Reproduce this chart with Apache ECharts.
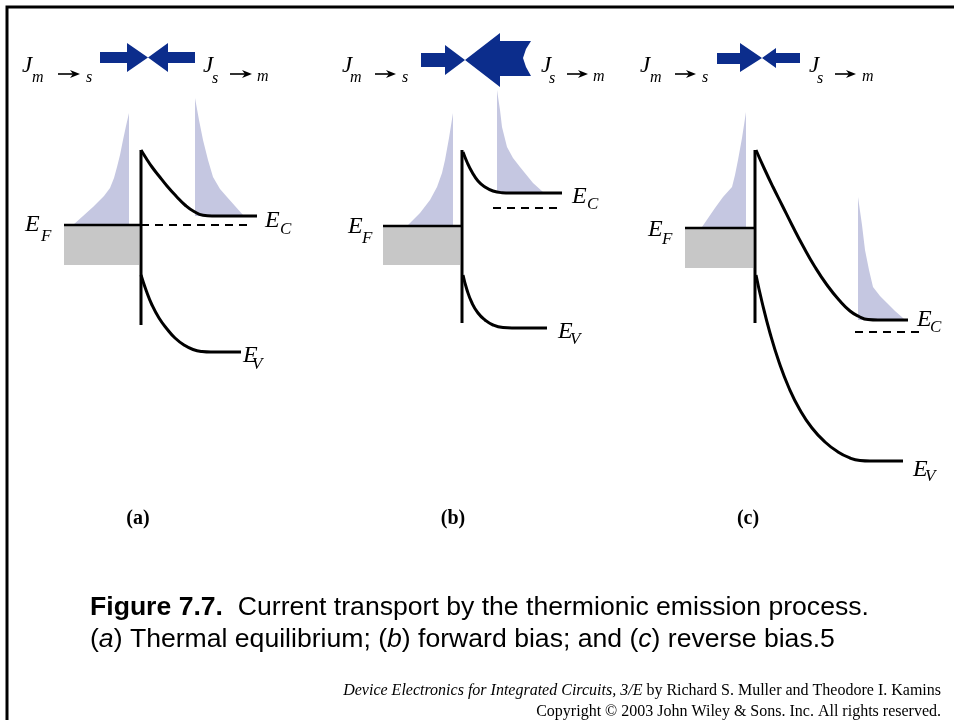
<!DOCTYPE html>
<html><head><meta charset="utf-8">
<script src="https://cdn.jsdelivr.net/npm/echarts@6/dist/echarts.min.js"></script>
<style>html,body{margin:0;padding:0;background:#fff}#c{width:954px;height:720px}</style>
</head><body><div id="c"></div>
<script>
// ---- Diagram data (x = horizontal position, y = energy position, downward) ----
// Panel (a): thermal equilibrium
const aCB = [[141,150],[146,158],[152,167],[159,176],[167,186],[176,196],[185,205],[194,211.5],[203,215.3],[212,216],[257,216]];
const aVB = [[141,275],[146,290],[152,305],[159,318],[167,329],[175,338],[184,345],[193,349.5],[202,351.5],[211,352],[241,352]];
const aMetal = [[141,150],[141,325]];
const aEF = [[64,225],[141,225]];
const aEFdash = [[141,225],[247,225]];
const aDistL = [[73,225],[93,207],[104,196],[110,188],[114,178],[117,167],[120,155],[123,140],[126,126],[129,113],[129,225]];
const aDistR = [[195,98],[199,120],[203,140],[208,160],[213,177],[220,189],[227,197],[235,206],[243,215],[247,216],[195,216]];
const aSea = [[64,225],[139,225],[139,265],[64,265]];
const aFlowMS = [[100,52],[127,52],[127,43],[148,57.5],[127,72],[127,63],[100,63]];
const aFlowSM = [[195,52],[168,52],[168,43],[148,57.5],[168,72],[168,63],[195,63]];
// Panel (b): forward bias
const bCB = [[463,152],[467,162],[472,172],[478,181],[485,187],[493,191],[502,192.7],[510,193],[562,193]];
const bVB = [[463,275],[467,290],[472,303],[478,313],[485,320],[493,325],[503,327.6],[512,328],[547,328]];
const bMetal = [[462,150],[462,323]];
const bEF = [[383,226],[462,226]];
const bEFdash = [[493,208],[560,208]];
const bDistL = [[407,226],[420,213],[430,200],[437,187],[442,173],[445,160],[449,138],[453,113],[453,226]];
const bDistR = [[497,90],[500,110],[502,127],[507,147],[513,158],[520,167],[533,183],[543,192],[545,193],[497,193]];
const bSea = [[383,226],[460,226],[460,265],[383,265]];
const bFlowMS = [[421,53],[445,53],[445,45],[465,60],[445,75],[445,67],[421,67]];
const bFlowSM = [[465,60],[500,33],[500,41],[531,41],[526,49],[523,58],[526,67],[531,76],[500,76],[500,87]];
// Panel (c): reverse bias
const cCB = [[756,150],[764,168],[773,187],[782,205],[792,225],[803,246],[815,267],[827,285],[839,300],[850,311],[859,316.5],[868,319.5],[878,320],[908,320]];
const cVB = [[756,275],[762,302],[770,333],[779,362],[789,388],[800,410],[812,428],[825,442],[838,452],[850,458],[860,460.5],[870,461],[903,461]];
const cMetal = [[755,150],[755,323]];
const cEF = [[685,228],[755,228]];
const cEFdash = [[855,332],[923,332]];
const cDistL = [[702,227],[715,208],[723,197],[732,187],[735,175],[738,160],[742,138],[746,112],[746,227]];
const cDistR = [[858,197],[862,225],[865,250],[869,270],[873,287],[880,296],[887,303],[895,311],[903,318],[905,320],[858,320]];
const cSea = [[685,228],[753,228],[753,268],[685,268]];
const cFlowMS = [[717,53],[740,53],[740,43],[762,58],[740,72],[740,64],[717,64]];
const cFlowSM = [[762,58],[776,48],[776,53],[800,53],[800,63],[776,63],[776,68]];

// Text labels: [text, x, y]
const bandLetters = [['E',25,225],['E',265,221],['E',243,356],['E',348,227],['E',572,197],['E',558,332],['E',648,230],['E',917,320],['E',913,470]];
const bandSubs = [['F',41,237],['C',280,230],['V',252,365],['F',362,239],['C',587,205],['V',570,340],['F',662,240],['C',930,328],['V',925,477]];
const fluxLetters = [['J',22,66],['J',203,66],['J',342,66],['J',541,66],['J',640,66],['J',809,66]];
const fluxSubs = [['m',32,78],['s',86,78],['s',212,79],['m',257,77],['m',350,78],['s',402,78],['s',549,79],['m',593,77],['m',650,78],['s',702,78],['s',817,79],['m',862,77]];
const fluxArrows = [[58,80,74],[230,252,74],[375,396,74],[567,588,74],[675,696,74],[835,856,74]];
const panelTags = [['(a)',138,519],['(b)',453,519],['(c)',748,519]];

const captionLine1 = '{b|Figure 7.7.}  Current transport by the thermionic emission process.';
const captionLine2 = '(' + '{i|a}' + ') Thermal equilibrium; (' + '{i|b}' + ') forward bias; and (' + '{i|c}' + ') reverse bias.5';
const creditLine1 = '{i|Device Electronics for Integrated Circuits, 3/E} by Richard S. Muller and Theodore I. Kamins';
const creditLine2 = 'Copyright \u00a9 2003 John Wiley & Sons. Inc. All rights reserved.';

// ---- Rendering ----
const SERIF = '"Liberation Serif","Times New Roman",serif';
const SANS = '"Liberation Sans",Arial,sans-serif';
const chart = echarts.init(document.getElementById('c'));

function lineS(data, width, extra) {
  return Object.assign({type:'line', data, symbol:'none', silent:true, animation:false, z:5,
    lineStyle:{color:'#000', width:width, cap:'butt', join:'round'}}, extra || {});
}
function polyS(polys, color, z) {
  return {type:'custom', coordinateSystem:'cartesian2d', silent:true, animation:false, z:z,
    data: polys.map(p => [p[0][0], p[0][1]]), encode:{x:0, y:1},
    renderItem: (params, api) => ({type:'polygon',
      shape:{points: polys[params.dataIndex].map(q => api.coord(q))},
      style:{fill: color}})};
}
function textS(items, fs, style, weight, align) {
  return {type:'custom', coordinateSystem:'cartesian2d', silent:true, animation:false, z:6,
    data: items.map(t => [t[1], t[2]]), encode:{x:0, y:1},
    renderItem: (params, api) => {
      const t = items[params.dataIndex];
      const p = api.coord([t[1], t[2]]);
      return {type:'text', x:p[0], y:p[1], style:{text:t[0], fontSize:fs, fontFamily:SERIF,
        fontStyle:style, fontWeight:weight, fill:'#000', align:align, verticalAlign:'middle'}};
    }};
}
const arrowSeries = {type:'custom', coordinateSystem:'cartesian2d', silent:true, animation:false, z:6,
  data: fluxArrows.map(a => [a[0], a[2]]), encode:{x:0, y:1},
  renderItem: (params, api) => {
    const a = fluxArrows[params.dataIndex];
    const p0 = api.coord([a[0], a[2]]), p1 = api.coord([a[1], a[2]]);
    return {type:'group', children:[
      {type:'line', shape:{x1:p0[0], y1:p0[1], x2:p1[0]-6, y2:p1[1]}, style:{stroke:'#000', lineWidth:1.6}},
      {type:'polygon', shape:{points:[[p1[0],p1[1]],[p1[0]-10,p1[1]-4],[p1[0]-7,p1[1]],[p1[0]-10,p1[1]+4]]}, style:{fill:'#000'}}
    ]};
  }};

const curveOpt = {smooth:0.5};
const dashOpt = {lineStyle:{color:'#000', width:2, type:[8,6]}};

const option = {
  animation:false,
  backgroundColor:'#fff',
  grid:{left:0, right:0, top:0, bottom:0, containLabel:false},
  xAxis:{type:'value', min:0, max:954, show:false},
  yAxis:{type:'value', min:0, max:720, inverse:true, show:false},
  series:[
    polyS([aSea, bSea, cSea], '#c7c7c7', 1),
    polyS([aDistL, aDistR, bDistL, bDistR, cDistL, cDistR], '#c5c7e1', 2),
    polyS([aFlowMS, aFlowSM, bFlowMS, bFlowSM, cFlowMS, cFlowSM], '#0c2d8c', 3),
    lineS(aEF, 2.5), lineS(bEF, 2.5), lineS(cEF, 2.5),
    lineS(aEFdash, 2, dashOpt), lineS(bEFdash, 2, dashOpt), lineS(cEFdash, 2, dashOpt),
    lineS(aMetal, 3), lineS(bMetal, 3), lineS(cMetal, 3),
    lineS(aCB, 3, curveOpt), lineS(bCB, 3, curveOpt), lineS(cCB, 3, curveOpt),
    lineS(aVB, 3, curveOpt), lineS(bVB, 3, curveOpt), lineS(cVB, 3, curveOpt),
    textS(bandLetters, 24, 'italic', 'normal', 'left'),
    textS(bandSubs, 17, 'italic', 'normal', 'left'),
    textS(fluxLetters, 23, 'italic', 'normal', 'left'),
    textS(fluxSubs, 16, 'italic', 'normal', 'left'),
    textS(panelTags, 20, 'normal', 'bold', 'center'),
    arrowSeries
  ],
  graphic:[
    {type:'polyline', shape:{points:[[7,720],[7,7],[954,7]]}, style:{stroke:'#000', lineWidth:3, fill:null}, silent:true},
    {type:'text', x:90, y:608, silent:true, style:{text:captionLine1, fontSize:26.6, fontFamily:SANS, fill:'#000',
      align:'left', verticalAlign:'middle',
      rich:{b:{fontSize:26.6, fontFamily:SANS, fontWeight:'bold', fill:'#000'}}}},
    {type:'text', x:90, y:640, silent:true, style:{text:captionLine2, fontSize:26.6, fontFamily:SANS, fill:'#000',
      align:'left', verticalAlign:'middle',
      rich:{i:{fontSize:26.6, fontFamily:SANS, fontStyle:'italic', fill:'#000'}}}},
    {type:'text', x:941, y:691, silent:true, style:{text:creditLine1, fontSize:16, fontFamily:SERIF, fill:'#000',
      align:'right', verticalAlign:'middle',
      rich:{i:{fontSize:16, fontFamily:SERIF, fontStyle:'italic', fill:'#000'}}}},
    {type:'text', x:941, y:712, silent:true, style:{text:creditLine2, fontSize:16, fontFamily:SERIF, fill:'#000',
      align:'right', verticalAlign:'middle'}}
  ]
};
chart.setOption(option);
</script></body></html>
